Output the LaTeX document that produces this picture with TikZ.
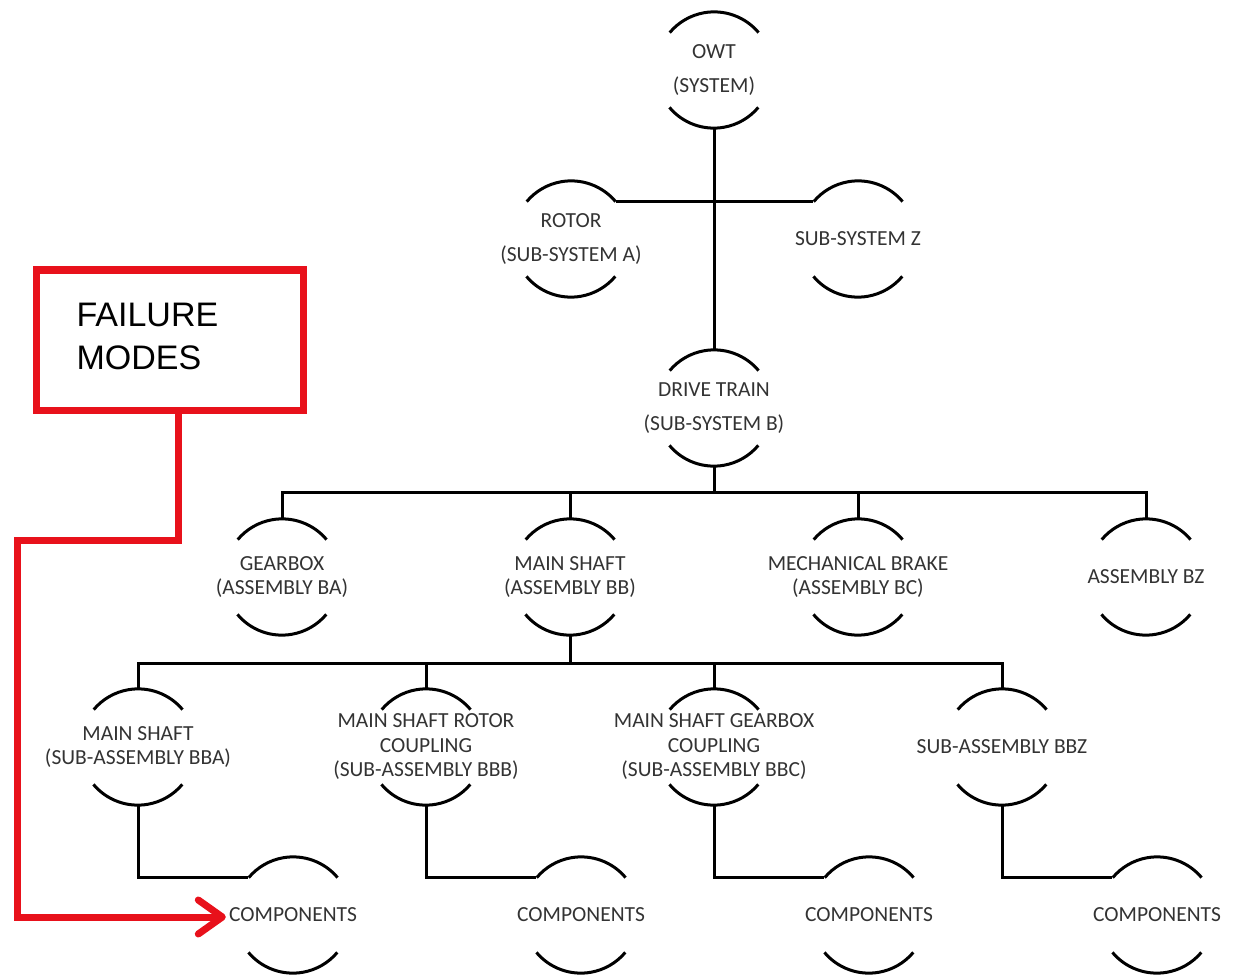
\documentclass[tikz,border=0pt]{standalone}
\usepackage{fontspec}
\setmainfont{Carlito}
\newfontfamily\boxfont{Liberation Sans}
\usetikzlibrary{arrows.meta}
\definecolor{failred}{RGB}{232,17,27}
\definecolor{inkgray}{RGB}{51,51,51}
\tikzset{
  unit/.style={circle, minimum size=116pt, inner sep=0pt},
  lbl/.style={align=center, text=inkgray, font=\fontsize{21.5}{24.5}\selectfont},
  widelbl/.style={lbl, font=\fontsize{21.5}{34}\selectfont},
  link/.style={line width=3pt},
  failline/.style={draw=failred, line width=7pt}
}
\begin{document}
\begin{tikzpicture}[x=1pt,y=1pt]
\useasboundingbox (0,0) rectangle (1236,-976);

% system and sub-systems
\node[unit, label={[widelbl]center:OWT\\(SYSTEM)}] (owt) at (714,-70) {};
\node[unit, label={[widelbl]center:ROTOR\\(SUB-SYSTEM A)}] (rotor) at (571,-239) {};
\node[unit, label={[widelbl]center:SUB-SYSTEM Z}] (subz) at (858,-239) {};
\node[unit, label={[widelbl]center:DRIVE TRAIN\\(SUB-SYSTEM B)}] (drive) at (714,-408) {};

% assemblies
\node[unit, label={[lbl]center:GEARBOX\\(ASSEMBLY BA)}] (gear) at (282,-577) {};
\node[unit, label={[lbl]center:MAIN SHAFT\\(ASSEMBLY BB)}] (shaft) at (570,-577) {};
\node[unit, label={[lbl]center:MECHANICAL BRAKE\\(ASSEMBLY BC)}] (brake) at (858,-577) {};
\node[unit, label={[lbl]center:ASSEMBLY BZ}] (asbz) at (1146,-577) {};

% sub-assemblies
\node[unit, label={[lbl]center:MAIN SHAFT\\(SUB-ASSEMBLY BBA)}] (bba) at (138,-747) {};
\node[unit, label={[lbl]center:MAIN SHAFT ROTOR\\COUPLING\\(SUB-ASSEMBLY BBB)}] (bbb) at (426,-747) {};
\node[unit, label={[lbl]center:MAIN SHAFT GEARBOX\\COUPLING\\(SUB-ASSEMBLY BBC)}] (bbc) at (714,-747) {};
\node[unit, label={[lbl]center:SUB-ASSEMBLY BBZ}] (bbz) at (1002,-747) {};

% components
\node[unit, label={[lbl]center:COMPONENTS}] (compa) at (293,-915) {};
\node[unit, label={[lbl]center:COMPONENTS}] (compb) at (581,-915) {};
\node[unit, label={[lbl]center:COMPONENTS}] (compc) at (869,-915) {};
\node[unit, label={[lbl]center:COMPONENTS}] (compz) at (1157,-915) {};

% the two arcs of every block
\foreach \n in {owt,rotor,subz,drive,gear,shaft,brake,asbz,bba,bbb,bbc,bbz,compa,compb,compc,compz}{
  \draw[link] (\n.40) arc[start angle=40, end angle=140, radius=58pt];
  \draw[link] (\n.220) arc[start angle=220, end angle=320, radius=58pt];
}

% tree links
\coordinate (busb) at (714,-492);
\coordinate (busbb) at (570,-663);
\draw[link] (owt.south) -- (drive.north);
\draw[link] (rotor.40) -- (subz.140);
\draw[link] (drive.south) -- (drive.south |- busb);
\draw[link] (gear.north) -- (gear.north |- busb) -- (asbz.north |- busb) -- (asbz.north);
\draw[link] (shaft.north) -- (shaft.north |- busb);
\draw[link] (brake.north) -- (brake.north |- busb);
\draw[link] (shaft.south) -- (busbb);
\draw[link] (bba.north) -- (bba.north |- busbb) -- (bbz.north |- busbb) -- (bbz.north);
\draw[link] (bbb.north) -- (bbb.north |- busbb);
\draw[link] (bbc.north) -- (bbc.north |- busbb);
\draw[link] (bba.south) |- (compa.140);
\draw[link] (bbb.south) |- (compb.140);
\draw[link] (bbc.south) |- (compc.140);
\draw[link] (bbz.south) |- (compz.140);

% failure modes
\node[failline, minimum width=267pt, minimum height=140pt, inner sep=0pt] (fm) at (169.5,-340) {};
\node[anchor=west, align=left, font=\boxfont\fontsize{34}{43}\selectfont] (fmtext) at (73,-336) {FAILURE\\MODES};
\coordinate (redturn) at (17,-540);
\draw[failline, -{Straight Barb[length=24pt, width=34pt, round]}]
  ([xshift=8.5pt]fm.south) |- (redturn) |- ([xshift=-9pt,yshift=-2pt]compa.west);
\end{tikzpicture}
\end{document}
